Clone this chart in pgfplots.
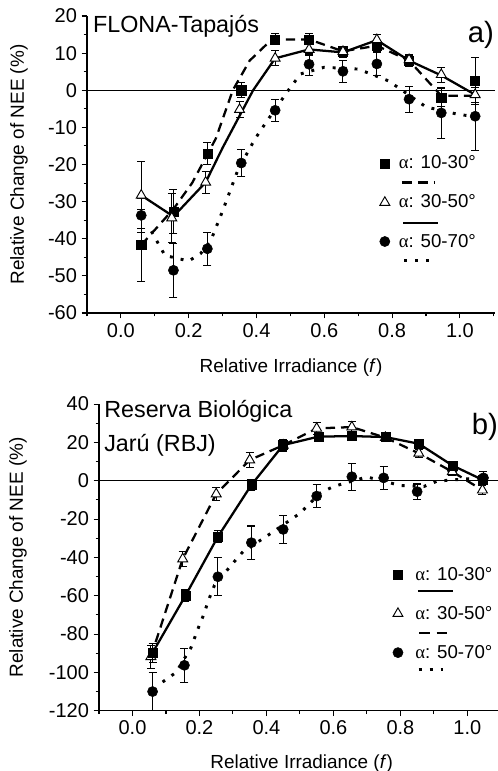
\documentclass[border=0pt]{standalone}
\usepackage{fontspec}
\setmainfont{Liberation Sans}
\newfontfamily\grk{Liberation Serif}
\usepackage{pgfplots}
\pgfplotsset{compat=1.18}
\usepackage{pgfplotstable}

% ---------- Panel a data (x, value, error) ----------
\pgfplotstableread{
x y e
0.060 -41.7 9.7
0.155 -32.7 6.0
0.255 -17.1 3.0
0.355 0.0 2.0
0.455 13.7 1.5
0.555 13.7 1.5
0.655 10.5 1.2
0.755 12.0 1.5
0.850 8.0 1.5
0.945 -2.0 2.5
1.045 2.5 6.3
}\aSq
\pgfplotstableread{
x y e
0.060 -28.3 9.0
0.150 -34.4 6.5
0.250 -24.8 3.0
0.350 -5.2 2.2
0.455 8.6 2.0
0.555 11.0 1.5
0.655 10.4 1.5
0.755 13.6 1.5
0.850 8.2 1.5
0.945 4.2 2.0
1.045 -1.2 2.0
}\aTr
\pgfplotstableread{
x y e
0.060 -33.7 4.5
0.155 -48.5 7.2
0.255 -42.7 4.5
0.355 -19.6 3.6
0.455 -5.4 3.0
0.555 7.0 3.0
0.655 5.1 3.0
0.755 7.1 3.0
0.850 -2.4 3.5
0.945 -6.1 6.8
1.045 -7.0 9.2
}\aCi
\pgfplotstableread{
x y
0.060 -41.7
0.155 -32.0
0.210 -25.0
0.280 -13.0
0.330 0.0
0.380 8.0
0.445 13.7
0.555 13.7
0.655 10.5
0.755 12.0
0.850 8.0
0.945 -1.5
1.045 -1.5
}\aSqLine
\pgfplotstableread{
x y
0.060 -28.3
0.155 -34.0
0.250 -24.8
0.300 -15.5
0.390 0.0
0.455 8.6
0.555 11.0
0.655 10.2
0.755 13.5
0.850 8.0
0.945 4.0
1.045 -1.2
}\aTrLine
\pgfplotstableread{
x y
0.090 -38.0
0.130 -44.5
0.200 -46.0
0.235 -44.0
0.265 -40.5
0.300 -32.5
0.345 -21.5
0.395 -13.2
0.430 -8.4
0.494 0.0
0.530 4.4
0.600 6.2
0.700 5.7
0.790 2.5
0.900 -4.5
1.000 -6.6
1.045 -7.0
}\aCiLine

% ---------- Panel b data ----------
\pgfplotstableread{
x y e
0.060 -89.7 5.0
0.158 -60.0 3.0
0.255 -29.2 3.0
0.355 -2.2 3.0
0.450 18.6 3.0
0.555 23.0 1.5
0.655 23.3 1.5
0.755 22.8 1.5
0.855 19.3 1.5
0.955 8.0 2.0
1.045 0.5 2.0
}\bSq
\pgfplotstableread{
x y e
0.055 -91.8 6.0
0.150 -40.8 4.0
0.250 -6.9 3.5
0.350 10.8 4.0
0.450 18.5 3.0
0.550 27.3 3.0
0.655 28.0 3.0
0.755 22.5 1.5
0.855 14.3 2.0
0.955 4.7 2.0
1.045 -4.9 2.5
}\bTr
\pgfplotstableread{
x y e
0.060 -110.0 10.0
0.155 -96.3 9.0
0.255 -50.1 10.0
0.355 -32.3 8.7
0.450 -25.4 7.2
0.550 -8.0 6.0
0.655 2.1 7.0
0.750 1.5 6.0
0.850 -5.7 4.0
0.955 5.5 3.0
1.048 1.5 3.5
}\bCi
\pgfplotstableread{
x y
0.090 -105.0
0.130 -100.0
0.175 -87.0
0.195 -77.5
0.210 -71.0
0.230 -61.0
0.245 -54.5
0.300 -43.0
0.330 -37.0
0.400 -29.0
0.500 -17.0
0.560 -6.5
0.600 -3.0
0.700 2.0
0.800 -2.5
0.870 -3.0
0.910 -0.2
1.000 1.0
1.045 1.5
}\bCiLine

\tikzset{
  txt/.style={anchor=west, inner sep=0pt, font=\fontsize{17.5}{20}\selectfont},
  pnl/.style={anchor=center, inner sep=0pt, font=\fontsize{22}{25}\selectfont},
}
\pgfplotsset{
  base/.style={
    scale only axis,
    clip mode=individual,
    axis x line*=bottom, axis y line*=left,
    axis line style={line width=0.8pt},
    tick align=outside,
    tick style={black, line width=0.8pt},
    major tick length=4pt, minor tick length=2.5pt,
    xmin=-0.1,
    xtick={0,0.2,0.4,0.6,0.8,1.0},
    xticklabels={0.0,0.2,0.4,0.6,0.8,1.0},
    minor xtick={-0.1,0.1,0.3,0.5,0.7,0.9,1.1},
    tick label style={font=\fontsize{15}{17}\selectfont},
    label style={font=\fontsize{14.2}{17}\selectfont},
    xlabel={Relative Irradiance (\textit{f})},
    ylabel={Relative Change of NEE (\%)},
    legend cell align=left,
    legend style={draw=none, fill=none, inner sep=0pt, row sep=14pt,
      font=\fontsize{14}{16}\selectfont},
  },
  lineS/.style={black, line width=1.7pt, forget plot},
  errS/.style={error bars/.cd, y dir=both, y explicit, error mark=-,
      error bar style={black, line width=0.8pt, solid},
      error mark options={rotate=90, black, line width=0.8pt, mark size=3pt, solid}},
  sqS/.style={black, only marks, mark=square*, mark size=3.4pt, mark options={fill=black, solid}, forget plot},
  trS/.style={black, only marks, mark=triangle*, mark size=4.3pt, mark options={fill=white, line width=0.7pt, solid}, forget plot},
  ciS/.style={black, only marks, mark=*, mark size=3.8pt, mark options={fill=black, solid}, forget plot},
  dashP/.style={dash pattern=on 7pt off 4.5pt},
  dotP/.style={line width=2.2pt, dash pattern=on 2.2pt off 6pt},
}

\begin{document}
\begin{tikzpicture}
\useasboundingbox (-65.25pt,-343.5pt) rectangle (308.25pt,234.75pt);

% ================= Panel a =================
\begin{axis}[base,
  at={(0pt,0pt)}, anchor=south west,
  width=306pt, height=222.75pt,
  xmax=1.1035, ymin=-60, ymax=20,
  ytick={-60,-50,-40,-30,-20,-10,0,10,20},
  yticklabels={-60,-50,-40,-30,-20,-10,0,10,20},
  minor ytick={-55,-45,-35,-25,-15,-5,5,15},
  ylabel style={at={(axis description cs:-0.167,0.5)}, anchor=center},
  xlabel style={at={(axis description cs:0.5,-0.184)}, anchor=center},
  legend style={at={(axis cs:0.762,-16.9)}, anchor=north west},
]
\addplot[black, line width=0.6pt, forget plot] coordinates {(-0.1,0) (1.1035,0)};
\addplot[lineS, dotP] table[x=x,y=y] {\aCiLine};
\addplot[lineS, dashP] table[x=x,y=y] {\aSqLine};
\addplot[lineS] table[x=x,y=y] {\aTrLine};
\addplot[ciS, errS] table[x=x,y=y,y error=e] {\aCi};
\addplot[sqS, errS] table[x=x,y=y,y error=e] {\aSq};
\addplot[trS, errS] table[x=x,y=y,y error=e] {\aTr};

\addlegendimage{legend image code/.code={
  \path[draw=none, fill=none] (-4pt,-6pt) rectangle (8.5pt,6pt);
  \draw[black, fill=black, only marks, mark=square*, mark size=3.4pt] plot coordinates {(0pt,0pt)};
  \draw[overlay, black, line width=1.7pt, dash pattern=on 8pt off 4pt] (12.75pt,-14.25pt) -- (37pt,-14.25pt);
}}
\addlegendentry{{\grk α}: 10-30°}
\addlegendimage{legend image code/.code={
  \path[draw=none, fill=none] (-4pt,-6pt) rectangle (8.5pt,6pt);
  \draw[black, fill=white, line width=0.7pt, only marks, mark=triangle*, mark size=4.3pt] plot coordinates {(0pt,0pt)};
  \draw[overlay, black, line width=1.7pt] (14pt,-15.5pt) -- (40pt,-15.5pt);
}}
\addlegendentry{{\grk α}: 30-50°}
\addlegendimage{legend image code/.code={
  \path[draw=none, fill=none] (-4pt,-6pt) rectangle (8.5pt,6pt);
  \draw[black, fill=black, only marks, mark=*, mark size=3.8pt] plot coordinates {(0pt,0pt)};
  \draw[overlay, black, line width=2.2pt, dash pattern=on 2.2pt off 6pt] (14.5pt,-14pt) -- (38pt,-14pt);
}}
\addlegendentry{{\grk α}: 50-70°}

\node[txt] at (axis cs:-0.083,17.3) {FLONA-Tapajós};
\node[pnl] at (axis cs:1.062,14.9) {a)};
\end{axis}

% ================= Panel b =================
\begin{axis}[base,
  at={(9pt,-298.3pt)}, anchor=south west,
  width=299.25pt, height=230pt,
  xmax=1.0914, ymin=-120, ymax=40,
  ytick={-120,-100,-80,-60,-40,-20,0,20,40},
  yticklabels={-120,-100,-80,-60,-40,-20,0,20,40},
  minor ytick={-110,-90,-70,-50,-30,-10,10,30},
  ylabel style={at={(axis description cs:-0.203,0.5)}, anchor=center},
  xlabel style={at={(axis description cs:0.508,-0.172)}, anchor=center},
  legend style={at={(axis cs:0.776,-43.5)}, anchor=north west},
]
\addplot[black, line width=0.6pt, forget plot] coordinates {(-0.1,0) (1.0914,0)};
\addplot[lineS, dotP] table[x=x,y=y] {\bCiLine};
\addplot[lineS, dashP] table[x=x,y=y] {\bTr};
\addplot[lineS] table[x=x,y=y] {\bSq};
\addplot[ciS, errS] table[x=x,y=y,y error=e] {\bCi};
\addplot[trS, errS] table[x=x,y=y,y error=e] {\bTr};
\addplot[sqS, errS] table[x=x,y=y,y error=e] {\bSq};

\addlegendimage{legend image code/.code={
  \path[draw=none, fill=none] (-4pt,-6pt) rectangle (11pt,6pt);
  \draw[black, fill=black, only marks, mark=square*, mark size=3.4pt] plot coordinates {(0pt,0pt)};
  \draw[overlay, black, line width=1.7pt] (15pt,-12.5pt) -- (41pt,-12.5pt);
}}
\addlegendentry{{\grk α}: 10-30°}
\addlegendimage{legend image code/.code={
  \path[draw=none, fill=none] (-4pt,-6pt) rectangle (11pt,6pt);
  \draw[black, fill=white, line width=0.7pt, only marks, mark=triangle*, mark size=4.3pt] plot coordinates {(0pt,0pt)};
  \draw[overlay, black, line width=1.7pt, dash pattern=on 8pt off 5pt] (16pt,-14.5pt) -- (40pt,-14.5pt);
}}
\addlegendentry{{\grk α}: 30-50°}
\addlegendimage{legend image code/.code={
  \path[draw=none, fill=none] (-4pt,-6pt) rectangle (11pt,6pt);
  \draw[black, fill=black, only marks, mark=*, mark size=3.8pt] plot coordinates {(0pt,0pt)};
  \draw[overlay, black, line width=2.2pt, dash pattern=on 2.2pt off 6pt] (15.5pt,-13pt) -- (38pt,-13pt);
}}
\addlegendentry{{\grk α}: 50-70°}

\node[txt] at (axis cs:-0.085,36.4) {Reserva Biológica};
\node[txt] at (axis cs:-0.085,18.6) {Jarú (RBJ)};
\node[pnl] at (axis cs:1.052,28.2) {b)};
\end{axis}
\end{tikzpicture}
\end{document}
